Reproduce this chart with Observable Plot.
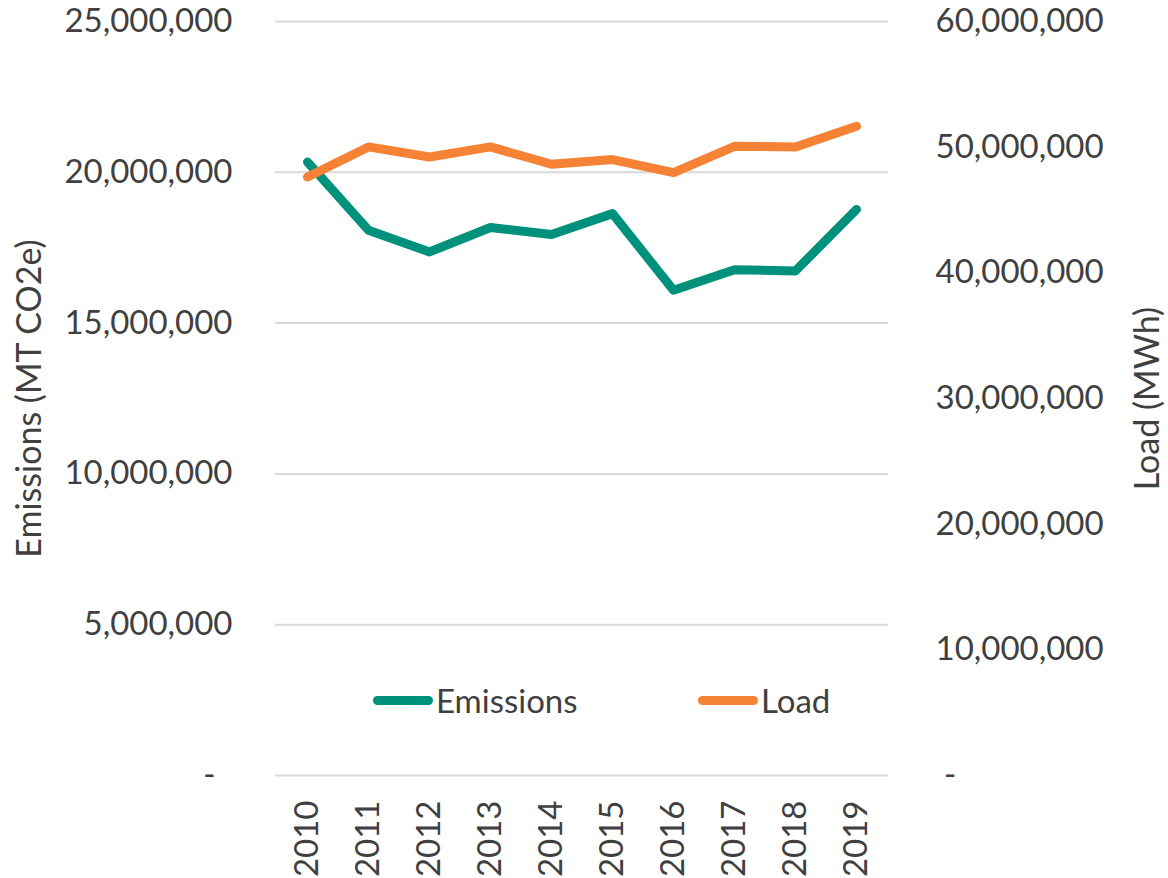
<!DOCTYPE html>
<html>
<head>
<meta charset="utf-8">
<script src="https://cdn.jsdelivr.net/npm/d3@7"></script>
<script src="https://cdn.jsdelivr.net/npm/@observablehq/plot@0.6"></script>
<style>
  html, body { margin: 0; padding: 0; background: #fff; }
  #wrap { position: relative; width: 1168px; height: 878px; font-family: Lato, "Open Sans", sans-serif; }
  .leg { position: absolute; top: 680px; height: 40px; display: flex; align-items: center; font-size: 33px; color: #404040; }
  .sw { width: 60px; height: 9px; border-radius: 5px; margin-right: 3px; }
</style>
</head>
<body>
<div id="wrap"></div>
<script>
const years = ["2010","2011","2012","2013","2014","2015","2016","2017","2018","2019"];
const emissions = [20340000, 18080000, 17360000, 18170000, 17940000, 18630000, 16090000, 16770000, 16730000, 18770000];
const load = [47630000, 50020000, 49220000, 50020000, 48640000, 49010000, 47980000, 50070000, 50020000, 51670000];
const leftTicks = [0, 5000000, 10000000, 15000000, 20000000, 25000000];
const rightTicks = [0, 10000000, 20000000, 30000000, 40000000, 50000000, 60000000];
const seriesNames = ["Emissions", "Load"];
const seriesColors = ["#00917c", "#f58235"];
const leftMax = 25000000, rightMax = 60000000;
const k = leftMax / rightMax;

const fmt = d3.format(",");
const emData = years.map((y, i) => ({year: y, value: emissions[i]}));
const ldData = years.map((y, i) => ({year: y, value: load[i] * k}));

const chart = Plot.plot({
  width: 1168,
  height: 878,
  marginLeft: 275,
  marginRight: 280,
  marginTop: 21,
  marginBottom: 103,
  style: {fontFamily: "Lato, 'Open Sans', sans-serif", fontSize: "33px", color: "#404040", background: "#fff"},
  x: {type: "point", domain: years, padding: 0.5},
  y: {domain: [0, leftMax]},
  marks: [
    Plot.gridY(leftTicks, {stroke: "#d9d9d9", strokeOpacity: 1, strokeWidth: 2}),
    Plot.axisY(leftTicks, {anchor: "left", tickSize: 0, tickPadding: 43, label: null,
      tickFormat: d => d === 0 ? "-\u00a0\u00a0" : fmt(d), fill: "#404040"}),
    Plot.axisY(rightTicks.map(t => t * k), {anchor: "right", tickSize: 0, tickPadding: 47, label: null,
      tickFormat: d => d === 0 ? "\u00a0-" : fmt(Math.round(d / k)), fill: "#404040"}),
    Plot.axisX({anchor: "bottom", tickSize: 0, tickPadding: 25, tickRotate: -90, label: null, fill: "#404040"}),
    Plot.text(["Emissions (MT CO2e)"], {frameAnchor: "left", textAnchor: "middle", rotate: -90, dx: -245, fontSize: 34, fill: "#404040"}),
    Plot.text(["Load (MWh)"], {frameAnchor: "right", textAnchor: "middle", rotate: -90, dx: 260, fontSize: 34, fill: "#404040"}),
    Plot.line(emData, {x: "year", y: "value", stroke: seriesColors[0], strokeWidth: 9, strokeLinecap: "round", strokeLinejoin: "round"}),
    Plot.line(ldData, {x: "year", y: "value", stroke: seriesColors[1], strokeWidth: 9, strokeLinecap: "round", strokeLinejoin: "round"})
  ]
});
const wrap = document.getElementById("wrap");
wrap.appendChild(chart);

const legPos = [373, 698];
seriesNames.forEach((name, i) => {
  const d = document.createElement("div");
  d.className = "leg";
  d.style.left = legPos[i] + "px";
  const sw = document.createElement("div");
  sw.className = "sw";
  sw.style.background = seriesColors[i];
  const t = document.createElement("span");
  t.textContent = name;
  d.appendChild(sw); d.appendChild(t);
  wrap.appendChild(d);
});
</script>
</body>
</html>
